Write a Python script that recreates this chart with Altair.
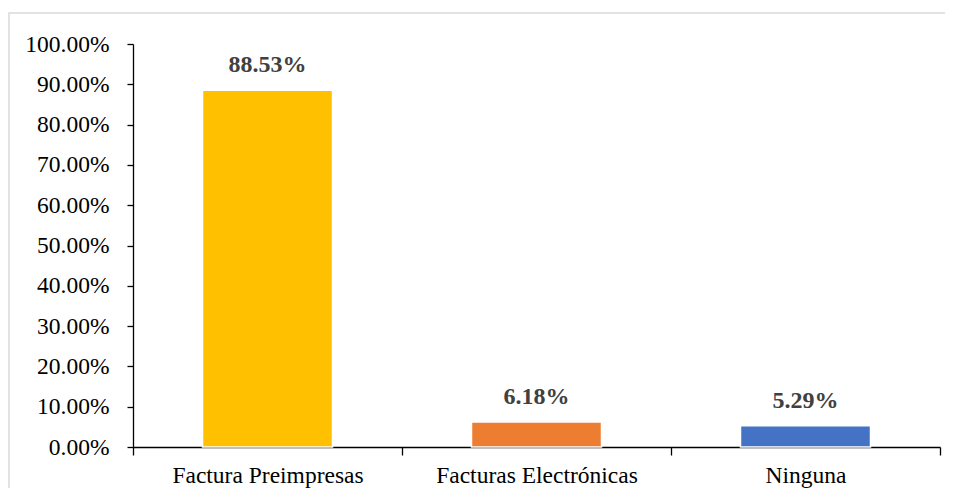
import altair as alt
import pandas as pd

categories = ["Factura Preimpresas", "Facturas Electrónicas", "Ninguna"]
values = [0.8853, 0.0618, 0.0529]
colors = ["#FFC000", "#ED7D31", "#4472C4"]
labels = ["88.53%", "6.18%", "5.29%"]

df = pd.DataFrame({"cat": categories, "val": values, "color": colors, "label": labels})
FONT = "'Liberation Serif', 'Times New Roman', serif"

x = alt.X("cat:N", sort=categories, title=None,
          scale=alt.Scale(paddingInner=0, paddingOuter=0),
          axis=alt.Axis(labelAngle=0, tickBand="extent", tickSize=8, labelPadding=8, labelLimit=0,
                        labelFont=FONT, labelFontSize=23.5, labelColor="#000000",
                        domainColor="#000000", tickColor="#000000", domainWidth=1.3, tickWidth=1.3))
y = alt.Y("val:Q", title=None,
          scale=alt.Scale(domain=[0, 1], nice=False),
          axis=alt.Axis(format=".2%", values=[i / 10 for i in range(11)], grid=False,
                        tickSize=6, labelPadding=18, labelFont=FONT, labelFontSize=23.5,
                        labelColor="#000000", domainColor="#000000", tickColor="#000000",
                        domainWidth=1.3, tickWidth=1.3))

base = alt.Chart(df)
bars = base.mark_bar(size=130, stroke="white", strokeWidth=1.5).encode(
    x=x, y=y, color=alt.Color("color:N", scale=None))
text = base.mark_text(baseline="alphabetic", dy=-18, font=FONT, fontSize=24,
                      fontWeight="bold", color="#404040").encode(
    x=alt.X("cat:N", sort=categories), y="val:Q", text="label:N")

border = alt.Chart(pd.DataFrame({"a": [0]})).mark_rect(
    fill=None, stroke="#d9d9d9", strokeWidth=1.5).encode(
    x=alt.value(-124), x2=alt.value(830), y=alt.value(-31), y2=alt.value(470))

chart = alt.layer(border, bars, text).properties(
    width=807, height=403,
    autosize=alt.AutoSizeParams(type="none"),
    padding={"left": 125, "top": 36, "right": 5, "bottom": 41},
).configure_view(stroke=None)

chart.save("out.html", embed_options={"renderer": "svg", "actions": False})
